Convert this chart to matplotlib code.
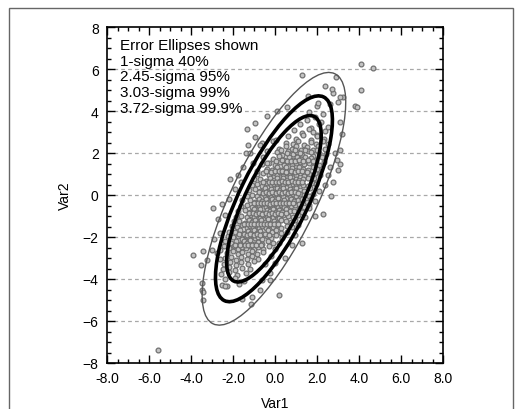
import numpy as np
import matplotlib
matplotlib.use("Agg")
import matplotlib.pyplot as plt
from matplotlib.patches import Ellipse, Rectangle
from matplotlib.ticker import MultipleLocator, FormatStrFormatter

plt.rcParams['font.family'] = ['Liberation Sans', 'DejaVu Sans']
plt.rcParams['font.size'] = 10

# scatter points (Var1, Var2)
points = [
    # upper tip
    (2.0, 4.22), (2.6, 4.31), (1.6, 3.93), (2.3, 3.86),
    (1.5, 3.58), (1.9, 3.71), (2.2, 3.47),
    (1.2, 3.36), (1.7, 3.21), (2.1, 3.39), (2.5, 3.24),
    (0.9, 3.08), (1.3, 2.93), (1.6, 3.12), (2.0, 2.88), (2.4, 3.03),
    (0.6, 2.82), (1.0, 2.66), (1.35, 2.87), (1.7, 2.63), (2.0, 2.79), (2.35, 2.68),
    (0.5, 2.47), (0.85, 2.41), (1.1, 2.58), (1.4, 2.36), (1.7, 2.53), (1.95, 2.44), (2.3, 2.59),
    (0.2, 2.17), (0.5, 2.31), (0.8, 2.19), (1.0, 2.34), (1.25, 2.12), (1.5, 2.27), (1.8, 2.16),
    (2.05, 2.33), (2.4, 2.21),
    (0.1, 2.04), (0.35, 1.92), (0.6, 2.08), (0.85, 1.96), (1.05, 2.06), (1.3, 1.91), (1.55, 2.09),
    (1.8, 1.88), (2.1, 2.02), (2.45, 1.94),
    (-0.1, 1.73), (0.2, 1.84), (0.45, 1.67), (0.65, 1.81), (0.85, 1.69), (1.05, 1.83), (1.25, 1.71),
    (1.45, 1.79), (1.7, 1.76), (1.95, 1.66), (2.25, 1.82),
    (-0.3, 1.53), (0.0, 1.42), (0.25, 1.58), (0.45, 1.44), (0.65, 1.56), (0.8, 1.41), (1.0, 1.52),
    (1.2, 1.59), (1.4, 1.46), (1.6, 1.51), (1.85, 1.57), (2.1, 1.43),
    (-0.4, 1.22), (-0.15, 1.17), (0.1, 1.33), (0.3, 1.19), (0.5, 1.31), (0.65, 1.16), (0.8, 1.28),
    (1.0, 1.21), (1.15, 1.34), (1.35, 1.26), (1.55, 1.18), (1.8, 1.32), (2.05, 1.2),
    # middle
    (-0.55, 1.03), (-0.3, 0.93), (-0.1, 1.07), (0.1, 0.96), (0.25, 1.08), (0.4, 0.92), (0.55, 1.04),
    (0.7, 0.97), (0.85, 1.09), (1.0, 0.94), (1.2, 1.06), (1.4, 0.91), (1.6, 1.02), (1.9, 1.07),
    (-0.7, 0.77), (-0.45, 0.68), (-0.25, 0.83), (-0.05, 0.71), (0.1, 0.79), (0.25, 0.66), (0.4, 0.82),
    (0.55, 0.73), (0.7, 0.84), (0.85, 0.69), (1.0, 0.78), (1.15, 0.72), (1.35, 0.76), (1.55, 0.81),
    (1.8, 0.67),
    (-0.85, 0.52), (-0.6, 0.43), (-0.4, 0.58), (-0.2, 0.46), (-0.05, 0.54), (0.1, 0.41), (0.25, 0.57),
    (0.4, 0.48), (0.55, 0.59), (0.7, 0.44), (0.85, 0.53), (1.0, 0.42), (1.15, 0.56), (1.35, 0.49),
    (1.55, 0.45), (1.75, 0.58),
    (-0.95, 0.27), (-0.7, 0.18), (-0.5, 0.33), (-0.35, 0.21), (-0.2, 0.29), (-0.05, 0.16), (0.1, 0.32),
    (0.25, 0.23), (0.4, 0.34), (0.55, 0.19), (0.7, 0.28), (0.85, 0.17), (1.0, 0.31), (1.2, 0.24),
    (1.4, 0.2), (1.65, 0.33),
    (-1.1, 0.02), (-0.85, -0.07), (-0.65, 0.08), (-0.5, -0.04), (-0.35, 0.06), (-0.2, -0.09),
    (-0.05, 0.07), (0.1, -0.02), (0.25, 0.09), (0.4, -0.06), (0.55, 0.04), (0.7, -0.08), (0.85, 0.03),
    (1.0, -0.05), (1.2, 0.06), (1.4, 0.01), (1.6, -0.07),
    (-1.2, -0.23), (-0.95, -0.32), (-0.75, -0.17), (-0.6, -0.29), (-0.45, -0.19), (-0.3, -0.34),
    (-0.15, -0.21), (0.0, -0.28), (0.15, -0.16), (0.3, -0.31), (0.45, -0.22), (0.6, -0.33),
    (0.75, -0.18), (0.9, -0.27), (1.1, -0.24), (1.3, -0.19), (1.5, -0.32),
    (-1.35, -0.48), (-1.1, -0.57), (-0.9, -0.43), (-0.75, -0.54), (-0.6, -0.42), (-0.45, -0.59),
    (-0.3, -0.46), (-0.15, -0.53), (0.0, -0.41), (0.15, -0.56), (0.3, -0.47), (0.45, -0.58),
    (0.6, -0.44), (0.75, -0.52), (0.95, -0.49), (1.15, -0.43), (1.4, -0.57),
    (-1.45, -0.73), (-1.2, -0.82), (-1.0, -0.68), (-0.85, -0.79), (-0.7, -0.67), (-0.55, -0.84),
    (-0.4, -0.71), (-0.25, -0.78), (-0.1, -0.66), (0.05, -0.81), (0.2, -0.72), (0.35, -0.83),
    (0.5, -0.69), (0.7, -0.77), (0.9, -0.74), (1.15, -0.68),
    # lower half
    (-1.6, -0.98), (-1.35, -1.07), (-1.15, -0.93), (-1.0, -1.04), (-0.85, -0.92), (-0.7, -1.09),
    (-0.55, -0.96), (-0.4, -1.03), (-0.25, -0.91), (-0.1, -1.06), (0.05, -0.97), (0.2, -1.08),
    (0.4, -0.94), (0.6, -1.01), (0.85, -1.06),
    (-1.7, -1.23), (-1.45, -1.32), (-1.25, -1.18), (-1.1, -1.29), (-0.95, -1.17), (-0.8, -1.34),
    (-0.65, -1.21), (-0.5, -1.28), (-0.35, -1.16), (-0.2, -1.31), (-0.05, -1.22), (0.1, -1.33),
    (0.3, -1.19), (0.5, -1.26), (0.75, -1.3),
    (-1.8, -1.52), (-1.55, -1.43), (-1.35, -1.58), (-1.2, -1.46), (-1.05, -1.54), (-0.9, -1.41),
    (-0.75, -1.57), (-0.6, -1.48), (-0.45, -1.59), (-0.3, -1.44), (-0.1, -1.53), (0.1, -1.42),
    (0.3, -1.56), (0.55, -1.49),
    (-1.9, -1.77), (-1.65, -1.68), (-1.45, -1.83), (-1.3, -1.71), (-1.15, -1.79), (-1.0, -1.66),
    (-0.85, -1.82), (-0.7, -1.73), (-0.55, -1.84), (-0.35, -1.69), (-0.15, -1.78), (0.05, -1.67),
    (0.3, -1.81),
    (-2.0, -2.02), (-1.75, -1.93), (-1.55, -2.08), (-1.4, -1.96), (-1.25, -2.04), (-1.1, -1.91),
    (-0.95, -2.07), (-0.8, -1.98), (-0.6, -2.09), (-0.4, -1.94), (-0.2, -2.03), (0.05, -1.92),
    (-2.1, -2.27), (-1.85, -2.18), (-1.65, -2.33), (-1.5, -2.21), (-1.35, -2.29), (-1.2, -2.16),
    (-1.0, -2.32), (-0.8, -2.23), (-0.6, -2.34), (-0.35, -2.19), (-0.1, -2.28),
    (-2.2, -2.52), (-1.95, -2.43), (-1.75, -2.58), (-1.55, -2.46), (-1.4, -2.54), (-1.2, -2.41),
    (-1.0, -2.57), (-0.8, -2.48), (-0.55, -2.59), (-0.3, -2.44),
    (-2.3, -2.77), (-2.0, -2.68), (-1.75, -2.83), (-1.55, -2.71), (-1.3, -2.79), (-1.1, -2.66),
    (-0.85, -2.82), (-0.55, -2.73),
    (-2.4, -3.02), (-2.1, -2.93), (-1.85, -3.08), (-1.6, -2.96), (-1.35, -3.04), (-1.1, -2.91),
    (-0.8, -3.07),
    (-2.45, -3.27), (-2.15, -3.18), (-1.85, -3.33), (-1.6, -3.21), (-1.3, -3.29), (-1.0, -3.16),
    (-2.5, -3.52), (-2.2, -3.43), (-1.9, -3.58), (-1.55, -3.46), (-1.2, -3.54),
    (-2.55, -3.77), (-2.2, -3.68), (-1.8, -3.83), (-1.4, -3.71),
    (-2.4, -4.02), (-1.9, -3.93), (-1.5, -4.08), (-2.3, -4.33), (-1.7, -4.24),
    # extra points in the crowded centre
    (0.3, 2.13), (0.55, 2.0), (0.95, 2.14), (1.2, 2.0), (1.45, 2.13), (1.7, 2.04), (2.0, 2.12),
    (0.05, 1.62), (0.35, 1.66), (0.55, 1.6), (0.75, 1.64), (0.95, 1.62), (1.15, 1.67), (1.35, 1.6),
    (1.55, 1.65), (1.8, 1.6),
    (-0.45, 1.12), (-0.2, 1.1), (0.0, 1.14), (0.2, 1.12), (0.35, 1.15), (0.5, 1.11), (0.75, 1.13),
    (0.95, 1.1), (1.1, 1.14), (1.3, 1.12), (1.5, 1.1),
    (-0.55, 0.62), (-0.3, 0.64), (-0.12, 0.6), (0.05, 0.63), (0.18, 0.6), (0.33, 0.65), (0.48, 0.62),
    (0.63, 0.6), (0.8, 0.65), (0.95, 0.61), (1.1, 0.64), (1.28, 0.62),
    (-0.78, 0.12), (-0.58, 0.1), (-0.42, 0.13), (-0.28, 0.11), (-0.12, 0.14), (0.03, 0.1),
    (0.18, 0.13), (0.33, 0.11), (0.48, 0.14), (0.63, 0.1), (0.78, 0.12), (0.93, 0.14), (1.1, 0.11),
    (-1.0, -0.38), (-0.82, -0.4), (-0.68, -0.36), (-0.52, -0.39), (-0.38, -0.37), (-0.22, -0.41),
    (-0.08, -0.37), (0.07, -0.39), (0.22, -0.36), (0.37, -0.4), (0.52, -0.38), (0.68, -0.36),
    (0.85, -0.4),
    (-1.25, -0.88), (-1.05, -0.86), (-0.9, -0.9), (-0.75, -0.87), (-0.6, -0.89), (-0.45, -0.86),
    (-0.3, -0.9), (-0.15, -0.87), (0.0, -0.89), (0.15, -0.86), (0.3, -0.9), (0.5, -0.87),
    (-1.5, -1.38), (-1.3, -1.4), (-1.15, -1.37), (-0.98, -1.39), (-0.82, -1.36), (-0.68, -1.4),
    (-0.52, -1.37), (-0.38, -1.39), (-0.22, -1.36), (-0.05, -1.4), (0.15, -1.37),
    (-1.7, -1.88), (-1.5, -1.86), (-1.32, -1.9), (-1.18, -1.87), (-1.02, -1.89), (-0.88, -1.86),
    (-0.72, -1.9), (-0.5, -1.87), (-0.3, -1.89),
    (-1.9, -2.38), (-1.65, -2.36), (-1.45, -2.4), (-1.3, -2.37), (-1.1, -2.39), (-0.9, -2.36),
    (-0.65, -2.4),
    # edges of the dense band
    (-0.1, 2.55), (2.5, 2.42), (-0.4, 2.1), (-0.6, 1.47), (2.35, 1.55), (-0.85, 1.02), (2.15, 0.97),
    (-1.1, 0.47), (1.95, 0.51), (-1.35, -0.03), (1.8, 0.04), (-1.6, -0.52), (1.6, -0.46),
    (-1.85, -1.03), (1.1, -0.97), (-2.05, -1.47), (0.8, -1.53), (-2.25, -1.97), (0.35, -2.05),
    (-2.45, -2.45), (0.0, -2.55), (-2.6, -3.05), (-0.5, -3.3),
    (-0.55, 1.8), (0.05, 2.6), (-1.0, 0.75), (2.0, 1.25), (-1.25, 0.25), (1.85, 0.8), (-1.55, -0.25),
    (1.7, -0.2), (-1.75, -0.75), (1.3, -0.8), (-1.95, -1.25), (0.95, -1.2), (-2.2, -1.75),
    (0.55, -1.75), (-2.4, -2.2), (0.2, -2.3), (-2.6, -2.6), (-0.2, -2.9),
    # scattered points outside the inner ellipses
    (4.1, 6.25), (4.68, 6.07), (4.1, 4.98), (1.27, 5.72), (2.89, 5.61), (2.38, 5.17), (2.78, 4.85),
    (2.7, 5.05), (1.59, 4.72), (2.06, 4.37), (3.25, 4.69), (3.1, 4.66), (2.99, 4.41), (3.81, 4.25),
    (3.89, 4.18), (0.56, 4.21), (0.08, 4.0), (3.1, 2.15), (2.86, 1.99), (2.94, 1.67), (2.62, 1.35),
    (3.01, 1.19), (3.09, 1.48), (2.54, 0.95), (2.78, 0.64), (2.38, 0.48), (3.17, 2.89), (3.09, 3.47),
    (2.67, -0.05), (1.9, -1.0), (2.3, -0.92), (1.27, -2.27), (0.19, -4.74), (1.11, -1.43),
    (1.43, -1.03), (-0.24, -4.05), (0.95, -1.91), (0.79, -2.38), (0.48, -3.02), (0.0, -3.26),
    (-0.24, -3.73), (-0.4, 3.77), (-0.95, 3.42), (-1.35, 3.13), (-0.95, 2.78), (-1.38, 1.99),
    (-1.19, 1.99), (-0.63, 2.47), (-0.71, 2.38), (-1.75, 0.95), (-2.14, 0.75), (-1.51, 1.35),
    (-0.4, 1.51), (-1.03, 1.51), (-0.87, 1.12), (-2.94, -0.63), (-2.54, -0.43), (-2.38, -0.95),
    (-2.7, -1.16), (-3.89, -2.86), (-3.41, -2.69), (-3.25, -3.1), (-3.01, -2.62), (-2.78, -2.78),
    (-3.49, -4.18), (-3.46, -4.53), (-3.41, -4.61), (-3.44, -4.98), (-3.52, -3.34), (-2.54, -4.29),
    (-2.38, -4.34), (-1.59, -4.93), (-1.11, -4.85), (-1.16, -5.17), (-0.71, -4.53), (-0.63, -4.05),
    (-5.59, -7.39), (-1.9, 0.3), (-2.2, -0.2), (-1.6, 0.6), (1.9, -0.3), (2.1, 0.2), (1.6, -0.6),
    (-2.6, -1.8), (-2.9, -2.1), (-1.3, 2.4), (1.8, 3.0),
]
var1 = [p[0] for p in points]
var2 = [p[1] for p in points]

# error ellipses: centre, 1-sigma semi-axes, tilt, and the sigma levels drawn
center = (-0.05, -0.18)
major_sd, minor_sd, tilt = 1.78, 0.54, 64.0
sigmas = [2.45, 3.03, 3.72]
ell_colors = ['black', 'black', '#555555']
ell_widths = [2.6, 2.6, 1.0]

legend_lines = ['Error Ellipses shown', '1-sigma 40%', '2.45-sigma 95%',
                '3.03-sigma 99%', '3.72-sigma 99.9%']

fig = plt.figure(figsize=(5.23, 4.10), dpi=100)
ax = fig.add_axes([107 / 523, 46 / 410, 336 / 523, 336 / 410])

# outer frame of the picture
fig.patches.append(Rectangle((9 / 523, -0.05), 504 / 523, 1.05 - 9 / 410,
                             transform=fig.transFigure, fill=False,
                             edgecolor='#666666', linewidth=1.0))

for yv in range(-6, 7, 2):
    ax.axhline(yv, color='#a8a8a8', linewidth=0.9, dashes=(3, 2.5), zorder=0)

ax.scatter(var1, var2, s=12, facecolors='#c4c4c4', edgecolors='#707070',
           linewidths=0.9, zorder=2)

for k, c, lw in zip(sigmas, ell_colors, ell_widths):
    ax.add_patch(Ellipse(center, 2 * k * major_sd, 2 * k * minor_sd, angle=tilt,
                         fill=False, edgecolor=c, linewidth=lw, zorder=3))

for i, line in enumerate(legend_lines):
    ax.text(-7.4, 7.15 - i * 0.75, line, fontsize=11, va='center', ha='left', zorder=4)

ax.set_xlim(-8, 8)
ax.set_ylim(-8, 8)
ax.xaxis.set_major_locator(MultipleLocator(2))
ax.xaxis.set_minor_locator(MultipleLocator(0.5))
ax.yaxis.set_major_locator(MultipleLocator(2))
ax.yaxis.set_minor_locator(MultipleLocator(0.5))
ax.xaxis.set_major_formatter(FormatStrFormatter('%.1f'))
ax.tick_params(which='both', direction='in', top=True, right=True, width=1.0)
ax.tick_params(which='major', length=6, pad=6, labelsize=10)
ax.tick_params(which='minor', length=3)
for sp in ax.spines.values():
    sp.set_linewidth(1.2)

ax.set_xlabel('Var1', fontsize=10, labelpad=8)
ax.set_ylabel('Var2', fontsize=10, labelpad=8)

fig.savefig('out.png', dpi=100)
